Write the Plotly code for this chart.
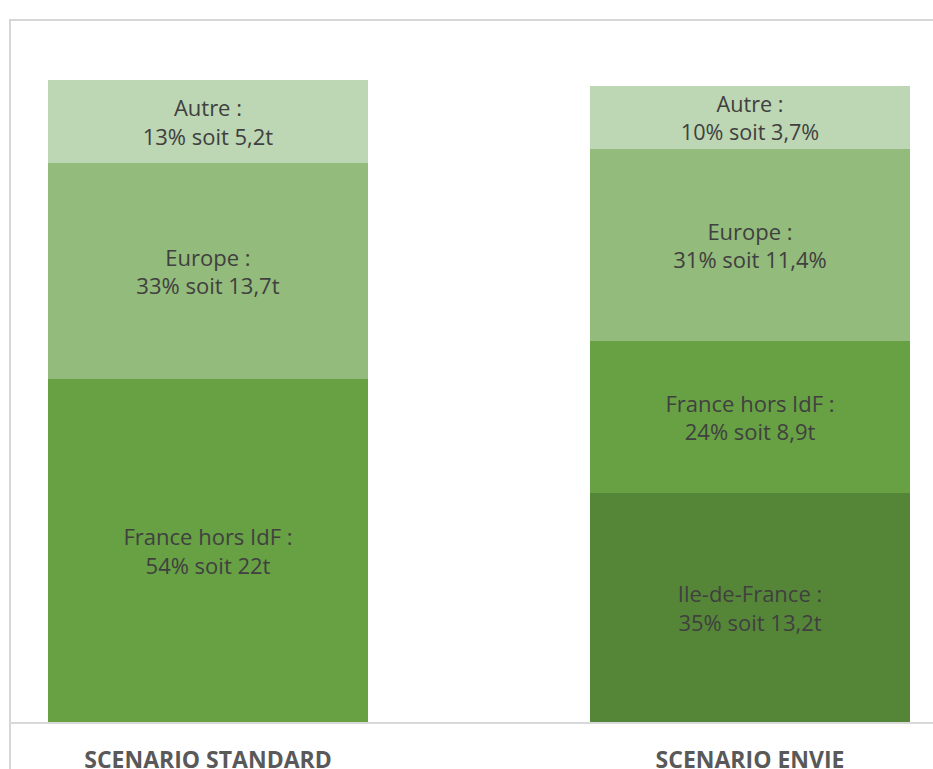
import plotly.graph_objects as go

categories = ["SCENARIO STANDARD", "SCENARIO ENVIE"]
x_pos = [0, 1]

# segment heights (percent of each scenario)
idf = [None, 35.6]
france = [53.4, 23.8]
europe = [33.7, 29.8]
autre = [12.9, 9.9]

idf_labels = ["", "Ile-de-France :<br>35% soit 13,2t"]
france_labels = ["France hors IdF :<br>54% soit 22t", "France hors IdF :<br>24% soit 8,9t"]
europe_labels = ["Europe :<br>33% soit 13,7t", "Europe :<br>31% soit 11,4%"]
autre_labels = ["Autre :<br>13% soit 5,2t", "Autre :<br>10% soit 3,7%"]

series = [
    ("Ile-de-France", idf, idf_labels, "#558638"),
    ("France hors IdF", france, france_labels, "#67a143"),
    ("Europe", europe, europe_labels, "#93bb7b"),
    ("Autre", autre, autre_labels, "#bdd6b3"),
]

fig = go.Figure()
for name, vals, labels, color in series:
    fig.add_trace(go.Bar(
        x=x_pos, y=vals, name=name, text=labels,
        marker=dict(color=color, line=dict(width=0)),
        width=0.5904,
        textposition="inside", insidetextanchor="middle", textangle=0,
        textfont=dict(family="Open Sans", size=22, color="#404040"),
        hoverinfo="skip",
    ))

fig.update_layout(
    barmode="stack",
    width=933, height=769,
    margin=dict(l=10, r=0, t=20, b=47, autoexpand=False),
    paper_bgcolor="white", plot_bgcolor="white",
    showlegend=False,
    xaxis=dict(
        range=[-0.3653, 1.3376],
        tickmode="array", tickvals=x_pos, ticktext=categories,
        tickfont=dict(family="Open Sans", size=23, color="#595959", weight="bold"),
        showline=True, linecolor="#d9d9d9", linewidth=1.5,
        showgrid=False, zeroline=False, ticks="",
        ticklabelstandoff=17, automargin=False,
    ),
    yaxis=dict(range=[0, 109.35], visible=False, showgrid=False, automargin=False),
    shapes=[dict(type="rect", xref="paper", yref="paper",
                 x0=0, x1=1.05, y0=-0.2, y1=1,
                 line=dict(color="#d6d6d6", width=2), fillcolor="rgba(0,0,0,0)",
                 layer="below")],
)

fig.write_html(
    "out.html",
    config={"responsive": False, "displayModeBar": False},
    post_script="document.body.style.margin='0';document.body.style.overflow='hidden';",
)
